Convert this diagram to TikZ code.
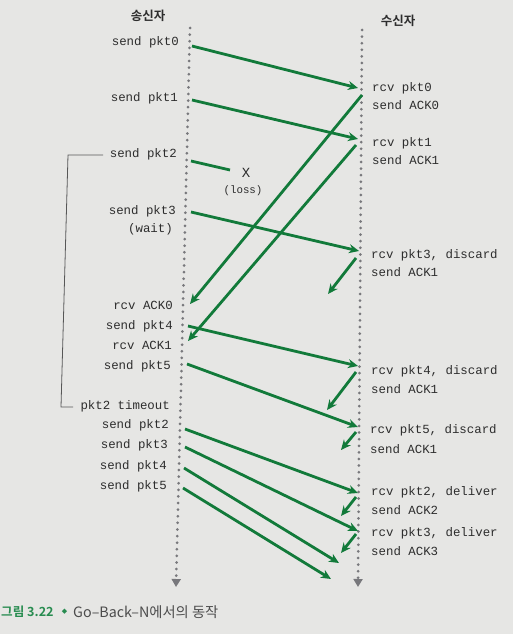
\documentclass[tikz,border=0pt]{standalone}
\usepackage{fontspec}
\setmonofont{Liberation Mono}
\newfontfamily\kr[BoldFont={Noto Sans CJK KR Bold}]{Noto Sans CJK KR}
\newfontfamily\dejavu{DejaVu Sans}
\usetikzlibrary{arrows.meta}
\definecolor{bgpaper}{RGB}{230,230,228}
\definecolor{arrgreen}{RGB}{18,122,58}
\definecolor{capgreen}{RGB}{40,140,80}
\definecolor{txt}{RGB}{45,45,45}
\definecolor{dotgray}{RGB}{120,120,124}
\begin{document}
\begin{tikzpicture}[x=1pt,y=-1pt,
  lbl/.style={inner sep=0pt,text=txt,font=\fontsize{12.4}{14}\selectfont\ttfamily,text height=8pt,text depth=2.5pt},
  ltxt/.style={lbl,anchor=east},
  rtxt/.style={lbl,anchor=west},
  head/.style={inner sep=0pt,text=txt,font=\kr\bfseries\fontsize{12.5}{14}\selectfont},
  msg/.style={draw=arrgreen,line width=2.8pt,-{Stealth[length=10pt,width=9pt]}},
  lostmsg/.style={draw=arrgreen,line width=2.8pt},
  dotline/.style={draw=dotgray,line width=3pt,line cap=round,dash pattern=on 0pt off 6.6pt,-{Triangle[length=8pt,width=9pt]}},
  bracket/.style={draw=txt!80,line width=0.8pt}]
\fill[bgpaper] (0,0) rectangle (513,634);
\useasboundingbox (0,0) rectangle (513,634);

% headers
\node[head] (hs) at (148,16) {송신자};
\node[head] (hr) at (398,21) {수신자};

% time lines
\coordinate (sTop) at (190,28);
\coordinate (sBot) at (176,587);
\coordinate (rTop) at (362,30);
\coordinate (rBot) at (358,587);
\draw[dotline] (sTop) -- (sBot);
\draw[dotline] (rTop) -- (rBot);

% sender labels
\node[ltxt] (s0) at (179,43) {send pkt0};
\node[ltxt] (s1) at (178,99) {send pkt1};
\node[ltxt] (s2) at (177,155) {send pkt2};
\node[ltxt] (s3) at (176,212) {send pkt3};
\node[ltxt] (wt) at (173,230) {(wait)};
\node[ltxt] (ra0) at (173,307) {rcv ACK0};
\node[ltxt] (s4) at (173,327) {send pkt4};
\node[ltxt] (ra1) at (172,347) {rcv ACK1};
\node[ltxt] (s5) at (171,367) {send pkt5};
\node[ltxt] (tmo) at (170,407) {pkt2 timeout};
\node[ltxt] (s2b) at (169,426) {send pkt2};
\node[ltxt] (s3b) at (168,446) {send pkt3};
\node[ltxt] (s4b) at (167,467) {send pkt4};
\node[ltxt] (s5b) at (167,487) {send pkt5};

% receiver labels
\node[rtxt] (r0) at (372,89) {rcv pkt0};
\node[rtxt] (a0) at (372,107) {send ACK0};
\node[rtxt] (r1) at (372,144) {rcv pkt1};
\node[rtxt] (a1) at (372,162) {send ACK1};
\node[rtxt] (r3) at (371,256) {rcv pkt3, discard};
\node[rtxt] (a1b) at (371,274) {send ACK1};
\node[rtxt] (r4) at (371,372) {rcv pkt4, discard};
\node[rtxt] (a1c) at (371,391) {send ACK1};
\node[rtxt] (r5) at (370,431) {rcv pkt5, discard};
\node[rtxt] (a1d) at (370,451) {send ACK1};
\node[rtxt] (r2b) at (371,493) {rcv pkt2, deliver};
\node[rtxt] (a2) at (371,512) {send ACK2};
\node[rtxt] (r3b) at (371,534) {rcv pkt3, deliver};
\node[rtxt] (a3) at (371,553) {send ACK3};

% timeout bracket
\coordinate (bk1) at (103,155);
\coordinate (bk2) at (68,155);
\coordinate (bk3) at (61,407);
\coordinate (bk4) at (73,407);
\draw[bracket] (bk1) -- (bk2) -- (bk3) -- (bk4);

% loss marker
\node[inner sep=0pt,text=txt,font=\fontsize{14}{16}\selectfont\ttfamily] (xl) at (246,173) {X};
\node[inner sep=0pt,text=txt,font=\fontsize{10.8}{12}\selectfont\ttfamily] (loss) at (243,191) {(loss)};

% endpoints
\coordinate (p0s) at (192,46);  \coordinate (p0e) at (358,88);
\coordinate (k0s) at (362,95);  \coordinate (k0e) at (190,304);
\coordinate (p1s) at (192,100); \coordinate (p1e) at (358,139);
\coordinate (k1s) at (356,145); \coordinate (k1e) at (188,341);
\coordinate (p2s) at (191,161); \coordinate (p2e) at (230,170);
\coordinate (p3s) at (191,212); \coordinate (p3e) at (359,251);
\coordinate (k3s) at (356,258); \coordinate (k3e) at (328,294);
\coordinate (p4s) at (188,326); \coordinate (p4e) at (358,366);
\coordinate (k4s) at (356,372); \coordinate (k4e) at (327,410);
\coordinate (p5s) at (187,364); \coordinate (p5e) at (358,427);
\coordinate (k5s) at (356,432); \coordinate (k5e) at (341,450);
\coordinate (q2s) at (185,429); \coordinate (q2e) at (358,493);
\coordinate (m2s) at (356,497); \coordinate (m2e) at (341,516);
\coordinate (q3s) at (185,447); \coordinate (q3e) at (358,531);
\coordinate (m3s) at (356,534); \coordinate (m3e) at (341,553);
\coordinate (q4s) at (184,468); \coordinate (q4e) at (339,563);
\coordinate (q5s) at (183,488); \coordinate (q5e) at (331,579);

\draw[msg] (p0s) -- (p0e);
\draw[msg] (k0s) -- (k0e);
\draw[msg] (p1s) -- (p1e);
\draw[msg] (k1s) -- (k1e);
\draw[lostmsg] (p2s) -- (p2e);
\draw[msg] (p3s) -- (p3e);
\draw[msg] (k3s) -- (k3e);
\draw[msg] (p4s) -- (p4e);
\draw[msg] (k4s) -- (k4e);
\draw[msg] (p5s) -- (p5e);
\draw[msg] (k5s) -- (k5e);
\draw[msg] (q2s) -- (q2e);
\draw[msg] (m2s) -- (m2e);
\draw[msg] (q3s) -- (q3e);
\draw[msg] (m3s) -- (m3e);
\draw[msg] (q4s) -- (q4e);
\draw[msg] (q5s) -- (q5e);

% caption
\node[inner sep=0pt,anchor=west,text=capgreen,font=\kr\bfseries\fontsize{12.6}{15}\selectfont] (cap1) at (1,612) {그림 3.22};
\node[inner sep=0pt,text=capgreen,font=\dejavu\fontsize{7}{8}\selectfont] (capd) at (64.5,612) {◆};
\node[inner sep=0pt,anchor=west,text=txt!85,font=\kr\fontsize{14.3}{16}\selectfont] (cap2) at (73,612) {Go–Back–N에서의 동작};
\end{tikzpicture}
\end{document}
